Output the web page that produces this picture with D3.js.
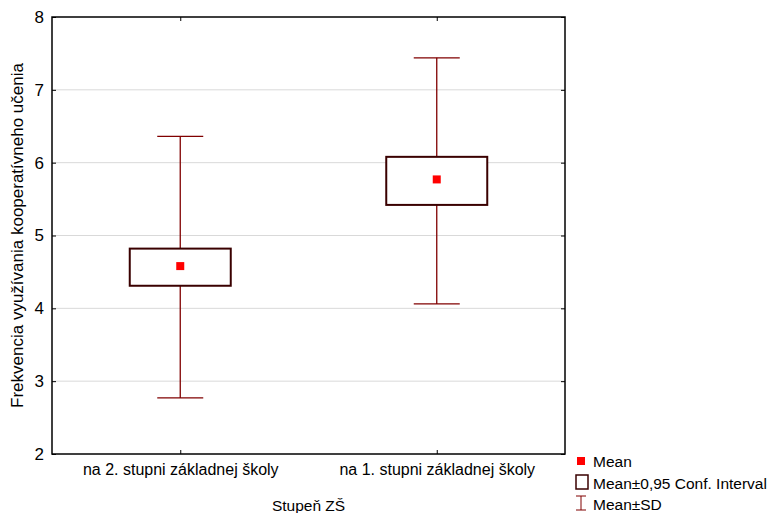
<!DOCTYPE html>
<html>
<head>
<meta charset="utf-8">
<script src="https://cdn.jsdelivr.net/npm/d3@7"></script>
<style>
    body { margin: 0; background: #fff; }
    text { font-family: "Liberation Sans", Arial, sans-serif; }
</style>
</head>
<body>
<div id="chart"></div>
<script>
// data
const categories = ["na 2. stupni základnej školy", "na 1. stupni základnej školy"];
const means = [4.58, 5.77];
const ciLow = [4.31, 5.42];
const ciHigh = [4.82, 6.08];
const sdLow = [2.77, 4.06];
const sdHigh = [6.36, 7.44];
const yTicks = [2, 3, 4, 5, 6, 7, 8];

const width = 771, height = 513;
const margin = {top: 17, right: 206, bottom: 59, left: 52};
const plotW = width - margin.left - margin.right;
const plotH = height - margin.top - margin.bottom;

const svg = d3.select('#chart')
    .append('svg')
    .attr('width', width)
    .attr('height', height);

const g = svg.append('g')
    .attr('transform', `translate(${margin.left},${margin.top})`);

const x = d3.scalePoint()
    .domain(categories)
    .range([0, plotW])
    .padding(0.5);

const y = d3.scaleLinear()
    .domain([2, 8])
    .range([plotH, 0]);

// grid
g.selectAll('line.grid')
    .data(yTicks.slice(1, -1))
    .enter()
    .append('line')
    .attr('class', 'grid')
    .attr('x1', 0)
    .attr('x2', plotW)
    .attr('y1', d => y(d))
    .attr('y2', d => y(d))
    .style('stroke', '#d9d9d9')
    .style('stroke-width', 1);

// left axis, inward ticks
const yAxis = g.append('g')
    .call(d3.axisLeft(y).tickValues(yTicks).tickSize(-4).tickPadding(8).tickFormat(d3.format('d')));
yAxis.select('.domain').remove();
yAxis.selectAll('text').style('font-size', '17px').attr('fill', '#000');

// right axis ticks
const yAxisR = g.append('g')
    .attr('transform', `translate(${plotW},0)`)
    .call(d3.axisRight(y).tickValues(yTicks).tickSize(-4).tickFormat(''));
yAxisR.select('.domain').remove();

// bottom axis
const xAxis = g.append('g')
    .attr('transform', `translate(0,${plotH})`)
    .call(d3.axisBottom(x).tickSize(-4).tickPadding(10));
xAxis.select('.domain').remove();
xAxis.selectAll('text').style('font-size', '16px').attr('fill', '#000');

const xAxisT = g.append('g')
    .call(d3.axisTop(x).tickSize(-4).tickFormat(''));
xAxisT.select('.domain').remove();

// frame
g.append('rect')
    .attr('width', plotW)
    .attr('height', plotH)
    .style('fill', 'none')
    .style('stroke', '#000')
    .style('stroke-width', 1.5);

const boxW = 101, capW = 46;
const groups = g.selectAll('g.grp')
    .data(categories)
    .enter()
    .append('g')
    .attr('class', 'grp')
    .attr('transform', d => `translate(${x(d)},0)`);

const whiskerColor = '#800000';
groups.append('line')
    .attr('y1', (d, i) => y(sdLow[i]))
    .attr('y2', (d, i) => y(sdHigh[i]))
    .style('stroke', whiskerColor)
    .style('stroke-width', 1.3);
groups.append('line')
    .attr('x1', -capW / 2).attr('x2', capW / 2)
    .attr('y1', (d, i) => y(sdHigh[i]))
    .attr('y2', (d, i) => y(sdHigh[i]))
    .style('stroke', whiskerColor)
    .style('stroke-width', 1.3);
groups.append('line')
    .attr('x1', -capW / 2).attr('x2', capW / 2)
    .attr('y1', (d, i) => y(sdLow[i]))
    .attr('y2', (d, i) => y(sdLow[i]))
    .style('stroke', whiskerColor)
    .style('stroke-width', 1.3);

groups.append('rect')
    .attr('x', -boxW / 2)
    .attr('width', boxW)
    .attr('y', (d, i) => y(ciHigh[i]))
    .attr('height', (d, i) => y(ciLow[i]) - y(ciHigh[i]))
    .style('fill', '#fff')
    .style('stroke', '#3a0000')
    .style('stroke-width', 2);

groups.append('rect')
    .attr('x', -4)
    .attr('width', 8)
    .attr('y', (d, i) => y(means[i]) - 4)
    .attr('height', 8)
    .style('fill', '#ff0000');

// axis titles
svg.append('text')
    .attr('x', margin.left + plotW / 2)
    .attr('y', 511)
    .attr('text-anchor', 'middle')
    .style('font-size', '15.5px')
    .text('Stupeň ZŠ');

svg.append('text')
    .attr('transform', `translate(23,${margin.top + plotH / 2}) rotate(-90)`)
    .attr('text-anchor', 'middle')
    .style('font-size', '17px')
    .text('Frekvencia využívania kooperatívneho učenia');

// legend
const lg = svg.append('g').attr('transform', 'translate(575,0)');
lg.append('rect').attr('x', 2).attr('y', 457).attr('width', 8).attr('height', 8).style('fill', '#ff0000');
lg.append('text').attr('x', 18).attr('y', 467).style('font-size', '15.5px').text('Mean');
lg.append('rect').attr('x', 1).attr('y', 475).attr('width', 12).attr('height', 14)
    .style('fill', 'none').style('stroke', '#3a0000').style('stroke-width', 1.5);
lg.append('text').attr('x', 18).attr('y', 489).style('font-size', '15.5px').text('Mean±0,95 Conf. Interval');
lg.append('line').attr('x1', 6).attr('x2', 6).attr('y1', 496).attr('y2', 510).style('stroke', whiskerColor);
lg.append('line').attr('x1', 1).attr('x2', 11).attr('y1', 496).attr('y2', 496).style('stroke', whiskerColor);
lg.append('line').attr('x1', 1).attr('x2', 11).attr('y1', 510).attr('y2', 510).style('stroke', whiskerColor);
lg.append('text').attr('x', 18).attr('y', 510).style('font-size', '15.5px').text('Mean±SD');
</script>
</body>
</html>
